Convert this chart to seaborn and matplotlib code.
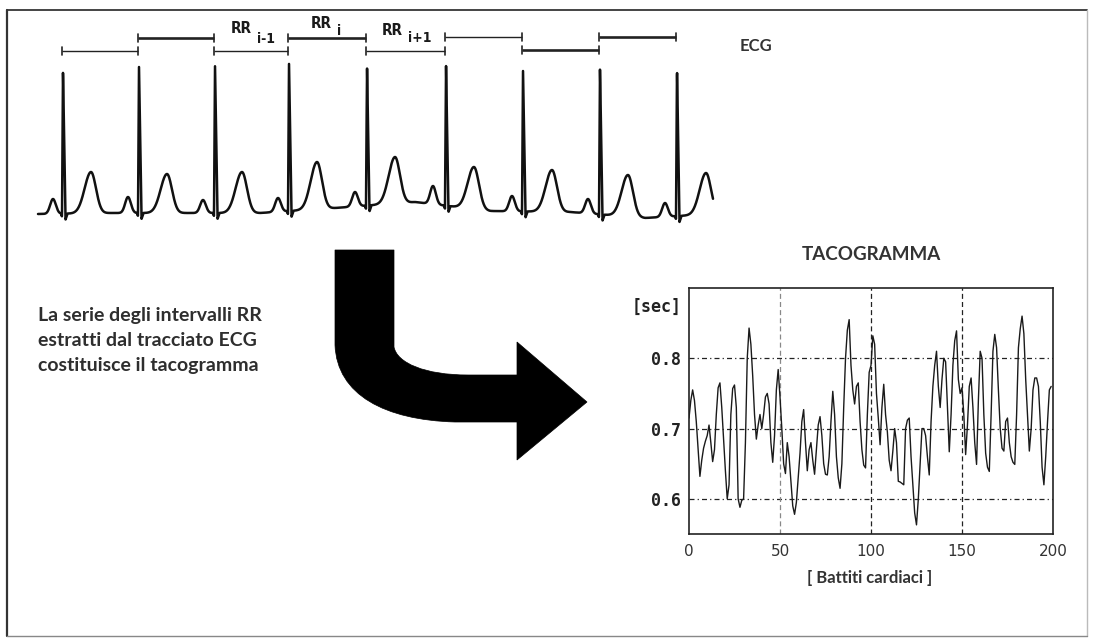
import numpy as np
import pandas as pd
import matplotlib
matplotlib.use("Agg")
import matplotlib.pyplot as plt
import seaborn as sns
from matplotlib.path import Path
from matplotlib.patches import PathPatch

sns.set_theme(style="white")
plt.rcParams['font.family'] = ['DejaVu Sans']

# ---------------- Tachogram data (RR interval per beat, seconds) ----------------
rr_sec = [
    0.715, 0.740, 0.755, 0.740, 0.710, 0.670, 0.632, 0.655, 0.672, 0.682,
    0.690, 0.705, 0.680, 0.653, 0.670, 0.720, 0.758, 0.765, 0.730, 0.685,
    0.640, 0.600, 0.620, 0.720, 0.757, 0.762, 0.730, 0.600, 0.588, 0.598,
    0.600, 0.680, 0.800, 0.843, 0.820, 0.775, 0.720, 0.685, 0.705, 0.720,
    0.700, 0.720, 0.745, 0.750, 0.735, 0.680, 0.652, 0.690, 0.755, 0.784,
    0.745, 0.700, 0.650, 0.636, 0.680, 0.660, 0.625, 0.590, 0.578, 0.595,
    0.630, 0.665, 0.710, 0.727, 0.680, 0.640, 0.670, 0.680, 0.655, 0.635,
    0.670, 0.705, 0.717, 0.690, 0.650, 0.635, 0.634, 0.660, 0.710, 0.753,
    0.720, 0.660, 0.630, 0.615, 0.650, 0.730, 0.800, 0.840, 0.855, 0.790,
    0.755, 0.735, 0.760, 0.765, 0.710, 0.670, 0.648, 0.644, 0.720, 0.780,
    0.790, 0.832, 0.820, 0.750, 0.715, 0.677, 0.730, 0.763, 0.720, 0.695,
    0.655, 0.640, 0.668, 0.700, 0.680, 0.625, 0.624, 0.622, 0.620, 0.700,
    0.712, 0.715, 0.660, 0.620, 0.580, 0.563, 0.600, 0.650, 0.700, 0.700,
    0.690, 0.660, 0.634, 0.710, 0.760, 0.790, 0.810, 0.760, 0.730, 0.770,
    0.800, 0.795, 0.730, 0.667, 0.720, 0.790, 0.825, 0.839, 0.770, 0.750,
    0.758, 0.720, 0.663, 0.705, 0.760, 0.772, 0.730, 0.680, 0.649, 0.740,
    0.810, 0.800, 0.720, 0.665, 0.645, 0.639, 0.720, 0.810, 0.834, 0.815,
    0.755, 0.700, 0.672, 0.668, 0.710, 0.715, 0.680, 0.660, 0.652, 0.649,
    0.720, 0.815, 0.842, 0.860, 0.835, 0.770, 0.720, 0.668, 0.700, 0.755,
    0.772, 0.772, 0.760, 0.710, 0.645, 0.620, 0.660, 0.710, 0.755, 0.760,
]
beats = list(range(len(rr_sec)))
x_ticks = [0, 50, 100, 150, 200]
x_tick_labels = ['0', '50', '100', '150', '200']
y_ticks = [0.6, 0.7, 0.8]
y_tick_labels = ['0.6', '0.7', '0.8']
grid_x = [50, 100, 150]

# ---------------- ECG drawing data (figure pixel coordinates) ----------------
r_x = [63, 139, 215, 289, 367, 446, 523, 600, 677]
r_top = [70, 67, 65, 63, 65, 63, 70, 67, 68]
t_x = [91, 167, 242, 317, 395, 474, 552, 628, 706]
t_top = [172, 174, 172, 162, 157, 167, 170, 175, 173]
p_x = [53, 128, 203, 278, 355, 433, 512, 588, 665]
p_top = [199, 197, 200, 198, 192, 186, 196, 199, 203]
base_x = [38, 110, 185, 260, 335, 415, 490, 570, 645, 713]
base_y = [214, 213, 213, 213, 208, 202, 211, 212, 218, 214]
ecg_start, ecg_end = 38, 713

rr_levels = [51, 38, 51, 38, 51, 37, 50, 37]
rr_thick = [False, True, False, True, False, False, True, True]

W, H = 1094, 644
fig = plt.figure(figsize=(W / 100, H / 100), dpi=100)
fig.patch.set_facecolor('white')

bg = fig.add_axes([0, 0, 1, 1])
bg.set_xlim(0, W)
bg.set_ylim(H, 0)
bg.axis('off')

# frame
bg.plot([7, 1087], [10, 10], color='#444444', lw=1.4)
bg.plot([7, 7], [10, 636], color='#333333', lw=1.6)
bg.plot([1087, 1087], [10, 636], color='#bbbbbb', lw=1.0)
bg.plot([7, 1087], [636, 636], color='#888888', lw=1.0)

# ECG trace
xs = np.linspace(ecg_start, ecg_end, 5000)
ys = np.interp(xs, base_x, base_y)
for px, pt in zip(p_x, p_top):
    amp = np.interp(px, base_x, base_y) - pt
    ys = ys - amp * np.exp(-((xs - px) / 4.0) ** 2)
for tx, tt in zip(t_x, t_top):
    amp = np.interp(tx, base_x, base_y) - tt
    w = np.where(xs < tx, 9.0, 7.0)
    ys = ys - amp * np.exp(-((xs - tx) / w) ** 2)
for rx, rt in zip(r_x, r_top):
    b = np.interp(rx, base_x, base_y)
    ys = ys - np.interp(xs, [rx - 2.0, rx - 1.0, rx, rx + 2.5, rx + 4.5],
                        [0, -3, b - rt, -6, 0], left=0, right=0)
ecg_df = pd.DataFrame({'x': xs, 'y': ys})
sns.lineplot(data=ecg_df, x='x', y='y', ax=bg, color='#111111', lw=1.8,
             estimator=None, sort=False)
bg.set_xlim(0, W)
bg.set_ylim(H, 0)
bg.axis('off')

# RR interval brackets
for i in range(len(r_x) - 1):
    x0, x1 = r_x[i] - 1, r_x[i + 1] - 1
    lvl = rr_levels[i]
    lw = 1.9 if rr_thick[i] else 1.0
    bg.plot([x0, x1], [lvl, lvl], color='#222222', lw=lw, solid_capstyle='butt')
    for xe in (x0, x1):
        bg.plot([xe, xe], [lvl - 4, lvl + 4], color='#222222', lw=1.2)

rr_font = dict(color='#1a1a1a', fontweight='bold', family='DejaVu Sans',
               fontstretch='condensed')
bg.text(241, 28, 'RR', fontsize=11, ha='center', va='center', **rr_font)
bg.text(266, 39, 'i-1', fontsize=10, ha='center', va='center', **rr_font)
bg.text(321, 23, 'RR', fontsize=11, ha='center', va='center', **rr_font)
bg.text(339, 31, 'i', fontsize=10, ha='center', va='center', **rr_font)
bg.text(392, 30, 'RR', fontsize=11, ha='center', va='center', **rr_font)
bg.text(420, 38, 'i+1', fontsize=10, ha='center', va='center', **rr_font)

bg.text(740, 46, 'ECG', fontsize=12, fontweight='bold', family='Lato',
        color='#333333', ha='left', va='center')

# explanatory text
lines = ['La serie degli intervalli RR', 'estratti dal tracciato ECG',
         'costituisce il tacogramma']
for k, ln in enumerate(lines):
    bg.text(38, 315 + 25 * k, ln, fontsize=14, fontweight='bold', family='Lato',
            color='#2e2e2e', ha='left', va='center')

# big curved arrow
verts = [(335, 250), (394, 250), (394, 347),
         (397, 363), (425, 375), (468, 375),
         (517, 375), (517, 342), (587, 402), (517, 460), (517, 422),
         (455, 422),
         (385, 420), (337, 395), (335, 345),
         (335, 250)]
codes = [Path.MOVETO, Path.LINETO, Path.LINETO,
         Path.CURVE4, Path.CURVE4, Path.CURVE4,
         Path.LINETO, Path.LINETO, Path.LINETO, Path.LINETO, Path.LINETO,
         Path.LINETO,
         Path.CURVE4, Path.CURVE4, Path.CURVE4,
         Path.CLOSEPOLY]
bg.add_patch(PathPatch(Path(verts, codes), facecolor='black', edgecolor='black', lw=0.5))

# ---------------- Tachogram axes ----------------
ax = fig.add_axes([689 / W, 1 - 534 / H, (1053 - 689) / W, (534 - 288) / H])
ax.set_facecolor('white')
tacho_df = pd.DataFrame({'beat': beats, 'rr': rr_sec})
sns.lineplot(data=tacho_df, x='beat', y='rr', ax=ax, color='#1a1a1a', lw=1.0)
ax.set_xlim(0, 200)
ax.set_ylim(0.55, 0.9)
for yv in y_ticks:
    ax.axhline(yv, color='#222222', lw=0.9, dashes=(4, 2.5, 1, 2.5), zorder=0)
for xv in grid_x:
    c = '#888888' if xv == 50 else '#222222'
    ax.axvline(xv, color=c, lw=0.9, dashes=(4, 2.5), zorder=0)
for s in ax.spines.values():
    s.set_color('#222222')
    s.set_linewidth(1.2)
ax.set_xticks(x_ticks, x_tick_labels)
ax.set_yticks(y_ticks, y_tick_labels)
ax.tick_params(axis='both', length=0)
ax.tick_params(axis='x', pad=7, labelsize=11, labelcolor='#333333')
ax.tick_params(axis='y', pad=6, labelsize=12, labelcolor='#222222')
for lab in ax.get_yticklabels():
    lab.set_family('DejaVu Sans Mono')
    lab.set_fontweight('bold')
ax.set_ylabel('[sec]', rotation=0, fontsize=12, fontweight='bold',
              family='DejaVu Sans Mono', color='#222222', ha='right', va='center')
ax.yaxis.set_label_coords(-0.019, 0.923)
ax.set_xlabel('[ Battiti cardiaci ]', fontsize=12, fontweight='bold', family='Lato',
              color='#333333', va='center')
ax.xaxis.set_label_coords(0.495, -0.179)
ax.set_title('TACOGRAMMA', fontsize=13.5, fontweight='bold', family='Lato',
             color='#333333', y=1.138, va='center', pad=0)

fig.savefig('out.png', dpi=100, facecolor='white')
